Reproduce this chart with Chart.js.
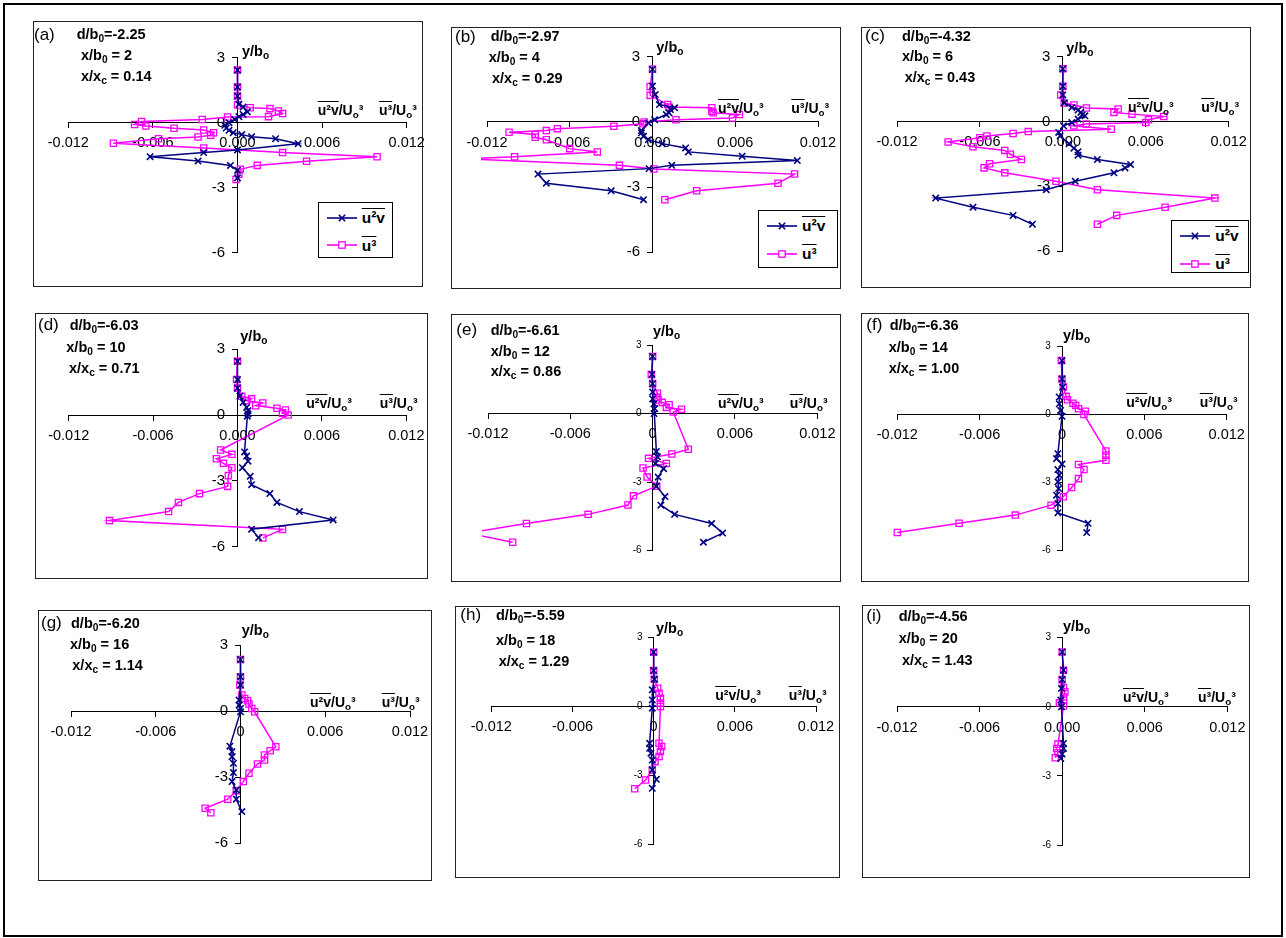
<!DOCTYPE html>
<html><head><meta charset="utf-8">
<script src="https://cdn.jsdelivr.net/npm/chart.js@4.4.1/dist/chart.umd.min.js"></script>
<style>
html,body{margin:0;padding:0;background:#fff}
body{width:1286px;height:938px;position:relative;overflow:hidden;font-family:Arial,"Liberation Sans",Helvetica,sans-serif;color:#000}
#frame{position:absolute;left:3px;top:3px;width:1280px;height:934px;border:2px solid #000;box-sizing:border-box}
.panel{position:absolute;border:1px solid #222;box-sizing:border-box;background:#fff}
canvas{position:absolute}
.t{position:absolute;white-space:nowrap;line-height:1}
.t sub{font-size:70%;vertical-align:baseline;position:relative;top:0.28em;line-height:0}
.ov{text-decoration:overline;text-decoration-thickness:1px}
.legend{position:absolute;border:1px solid #000;background:#fff;box-sizing:border-box}
.legend svg{position:absolute}
</style>
</head><body>
<div id="frame"></div>
<script>
// ---------------- data (x = normalised moment, y = y/b0) ----------------
const X_TICKS = [-0.012, -0.006, 0, 0.006, 0.012];
const X_TICK_LABELS = ['-0.012', '-0.006', '0.000', '0.006', '0.012'];
const X_TICK_LABELS_INT = ['-0.012', '-0.006', '0', '0.006', '0.012'];
const Y_TICKS = [-6, -3, 0, 3];
const Y_TICK_LABELS = ['-6', '-3', '0', '3'];

const PANEL_TAGS = ['(a)', '(b)', '(c)', '(d)', '(e)', '(f)', '(g)', '(h)', '(i)'];
const D_B0 = ['-2.25', '-2.97', '-4.32', '-6.03', '-6.61', '-6.36', '-6.20', '-5.59', '-4.56'];
const X_B0 = ['2', '4', '6', '10', '12', '14', '16', '18', '20'];
const X_XC = ['0.14', '0.29', '0.43', '0.71', '0.86', '1.00', '1.14', '1.29', '1.43'];

const A_U2V = [[0,2.43],[0,1.65],[0,1.23],[0.0001,0.85],[0.0004,0.72],[0.0007,0.5],[0.0004,0.38],[0.0001,0.28],[-0.0002,0.15],[-0.0006,0.0],[-0.0009,-0.12],[-0.0008,-0.25],[-0.0006,-0.35],[-0.0003,-0.46],[0.0003,-0.55],[0.001,-0.65],[0.0027,-0.74],[0.0043,-0.97],[0,-1.26],[-0.0024,-1.38],[-0.0062,-1.57],[-0.0028,-1.77],[-0.0005,-1.97],[0,-2.2],[0,-2.55]];
const A_U3 = [[0,2.43],[0,1.65],[0,1.23],[0,0.82],[0.0009,0.69],[0.0023,0.65],[0.0029,0.54],[0.0032,0.42],[0.0022,0.28],[-0.0007,0.26],[-0.0025,0.15],[-0.0068,0.06],[-0.0073,-0.08],[-0.0065,-0.15],[-0.0045,-0.26],[-0.0024,-0.34],[-0.0017,-0.46],[-0.0019,-0.58],[-0.0028,-0.66],[-0.0056,-0.74],[-0.0088,-0.95],[-0.0024,-1.17],[0.0032,-1.38],[0.0099,-1.57],[0.0049,-1.78],[0.0014,-1.97],[0.0002,-2.15],[0.0001,-2.38],[-0.0001,-2.62]];

const B_U2V = [[0,2.42],[0,1.65],[0.0002,1.26],[0.0005,0.8],[0.0016,0.65],[0.0013,0.57],[0.0012,0.42],[0.001,0.34],[0.00015,0.1],[-0.0003,-0.05],[-0.0008,-0.4],[-0.0008,-0.5],[-0.00065,-0.66],[-0.0003,-0.82],[0.0007,-1.0],[0.0024,-1.2],[0.0026,-1.38],[0.0065,-1.58],[0.0105,-1.78],[0.0014,-2.0],[-0.00025,-2.15],[-0.0083,-2.4],[-0.0077,-2.82],[-0.003,-3.17],[-0.00065,-3.58]];
const B_U3 = [[0,2.42],[-0.00017,1.63],[-0.00017,1.22],[0.0011,0.8],[0.0012,0.68],[0.0043,0.65],[0.0043,0.49],[0.0044,0.42],[0.0063,0.34],[0.0058,0.18],[0.0017,0.1],[-0.0006,0],[-0.0007,-0.09],[-0.0028,-0.2],[-0.0069,-0.31],[-0.0077,-0.4],[-0.0104,-0.48],[-0.0085,-0.58],[-0.0085,-0.71],[-0.0077,-0.82],[-0.006,-1.23],[-0.004,-1.38],[-0.01,-1.6],[-0.0135,-1.7],[-0.0024,-2.0],[0.0001,-2.17],[0.0103,-2.4],[0.0091,-2.82],[0.0032,-3.17],[0.0009,-3.58]];

const C_U2V = [[0,2.44],[0,1.63],[0,1.23],[0.0001,0.86],[0.00065,0.65],[0.0011,0.53],[0.0013,0.42],[0.0014,0.31],[0.0016,0.26],[0.0011,0.11],[0.00065,-0.05],[0.00005,-0.2],[-0.0003,-0.51],[-0.0002,-0.67],[0.00045,-1.03],[0.0008,-1.24],[0.0011,-1.4],[0.0011,-1.56],[0.0025,-1.76],[0.0049,-1.99],[0.0045,-2.15],[0.0037,-2.38],[0.0009,-2.77],[-0.0012,-3.16],[-0.0092,-3.55],[-0.0065,-3.97],[-0.0036,-4.35],[-0.0022,-4.76]];
const C_U3 = [[0,2.44],[0,1.63],[-0.00015,1.23],[0.0001,0.86],[0.0008,0.76],[0.0017,0.62],[0.004,0.58],[0.0037,0.42],[0.005,0.34],[0.0073,0.23],[0.0062,0.08],[0.006,-0.05],[0.0017,-0.12],[0.0008,-0.2],[0.0035,-0.36],[-0.0025,-0.47],[-0.0036,-0.56],[-0.0055,-0.67],[-0.006,-0.75],[-0.0083,-0.95],[-0.0065,-1.17],[-0.0042,-1.34],[-0.0038,-1.52],[-0.003,-1.76],[-0.0053,-1.96],[-0.0057,-2.15],[-0.0042,-2.38],[-0.0005,-2.77],[0.0025,-3.16],[0.011,-3.55],[0.0074,-3.97],[0.0039,-4.35],[0.0025,-4.76]];

const D_U2V = [[0,2.45],[0,1.62],[0,1.23],[0.00017,0.86],[0.0004,0.58],[0.00065,0.35],[0.00075,0.2],[0.00075,0.05],[0.0007,-0.05],[0.0005,-1.68],[0.00065,-1.87],[0.00075,-2.1],[0.00035,-2.4],[0.0009,-2.79],[0.001,-3.17],[0.0023,-3.58],[0.0028,-3.98],[0.0044,-4.4],[0.0068,-4.78],[0.001,-5.2],[0.0015,-5.59]];
const D_U3 = [[0,2.45],[-0.00007,1.62],[0,1.23],[0.0003,0.86],[0.001,0.74],[0.00065,0.66],[0.0018,0.55],[0.0013,0.43],[0.0028,0.31],[0.0034,0.23],[0.0032,0.09],[0.0036,0],[-0.0012,-1.59],[-0.0004,-1.79],[-0.0015,-1.99],[-0.001,-2.2],[-0.0004,-2.4],[-0.00065,-2.76],[-0.0007,-3.25],[-0.0027,-3.58],[-0.0042,-3.98],[-0.0049,-4.4],[-0.0091,-4.81],[0.0032,-5.21],[0.0018,-5.6]];

const E_U2V = [[0,2.5],[-0.00005,1.71],[0,1.31],[0,0.94],[0,0.64],[0.0001,0.42],[0.00015,0.22],[0.0001,0],[0.00027,-1.66],[0.00035,-1.89],[0.0002,-2.18],[0.0008,-2.41],[0.0004,-2.78],[0.00027,-3.18],[0.0009,-3.63],[0.0006,-4.01],[0.0016,-4.41],[0.0043,-4.81],[0.0051,-5.23],[0.0037,-5.63]];
const E_U3 = [[0,2.5],[-0.0001,1.71],[0,1.31],[0.00035,0.89],[0.00027,0.71],[0.0004,0.59],[0.0007,0.49],[0.0012,0.39],[0.001,0.27],[0.0021,0.19],[0.0015,0.07],[0.0026,-1.56],[0.0014,-1.77],[-0.0003,-1.96],[0.001,-2.18],[-0.0007,-2.38],[-0.0004,-2.78],[0.0003,-3.18],[-0.0014,-3.6],[-0.0018,-4.0],[-0.0047,-4.41],[-0.0092,-4.81],[-0.0135,-5.23],[-0.0102,-5.63]];

const F_U2V = [[0,2.39],[0,1.58],[0.00005,1.22],[-0.0002,0.78],[-0.0002,0.48],[-0.0001,0.19],[0,-0.07],[-0.0003,-1.72],[-0.0004,-1.94],[0,-2.18],[-0.0003,-2.42],[-0.0002,-2.67],[-0.0003,-2.96],[-0.00025,-3.26],[-0.0004,-3.55],[-0.0003,-3.92],[-0.0003,-4.33],[0.0019,-4.79],[0.0018,-5.2]];
const F_U3 = [[-0.00005,2.39],[0,1.58],[0.0001,1.22],[0.0003,0.81],[0.0004,0.66],[0.0008,0.51],[0.001,0.41],[0.0012,0.26],[0.0017,0.15],[0.0016,0.01],[0.0032,-1.6],[0.0032,-1.79],[0.0032,-2.01],[0.0012,-2.2],[0.0016,-2.42],[0.0012,-2.82],[0.0007,-3.21],[0.0001,-3.62],[-0.0008,-3.99],[-0.0034,-4.43],[-0.0075,-4.79],[-0.012,-5.2]];

const G_U2V = [[0,2.34],[0,1.56],[0,1.18],[-0.0001,0.5],[-0.0001,0.27],[0,0.12],[0,-0.03],[-0.00075,-1.59],[-0.0006,-1.84],[-0.0006,-2.07],[-0.0005,-2.37],[-0.0005,-2.79],[-0.0006,-3.2],[-0.0003,-3.58],[-0.0003,-4.0],[0.0001,-4.56]];
const G_U3 = [[0,2.34],[0,1.56],[-0.00005,1.18],[0.0001,0.73],[0.0003,0.57],[0.0005,0.47],[0.0006,0.32],[0.0008,0.12],[0.001,-0.03],[0.0025,-1.62],[0.0021,-1.8],[0.0017,-1.99],[0.0017,-2.22],[0.0012,-2.4],[0.0006,-2.82],[0.0002,-3.2],[-0.0003,-3.61],[-0.0009,-4.0],[-0.0025,-4.41],[-0.0021,-4.61]];

const H_U2V = [[0,2.37],[0,1.57],[0.00005,1.19],[-0.0001,0.73],[-0.0001,0.29],[-0.0001,-0.07],[-0.0003,-1.6],[-0.0003,-1.82],[-0.0002,-2.03],[-0.0001,-2.33],[-0.0001,-2.76],[0.0002,-3.17],[-0.0001,-3.56]];
const H_U3 = [[0,2.37],[0,1.57],[0.00005,1.19],[0.0003,0.8],[0.0004,0.58],[0.0005,0.36],[0.0005,0.15],[0.0005,0],[0.0004,-1.6],[0.0006,-1.74],[0.0005,-1.96],[0.0004,-2.18],[0.0001,-2.4],[-0.0001,-2.76],[-0.0006,-3.2],[-0.0014,-3.58]];

const I_U2V = [[0,2.38],[0.0001,1.59],[0,1.18],[-0.00005,0.8],[-0.0001,0.29],[-0.00005,0],[0.0001,-1.59],[0.0001,-1.81],[0,-2.05],[-0.0001,-2.24]];
const I_U3 = [[0,2.38],[0.0001,1.59],[0,1.18],[0.0001,0.84],[0.0002,0.65],[0.0001,0.43],[0.0001,0.29],[-0.0002,0.17],[0.0001,0.03],[-0.0003,-1.62],[-0.0004,-1.81],[-0.0003,-1.99],[-0.0005,-2.21]];

// ---------------- layout (page pixels) ----------------
const PANELS = [
 {u2v:A_U2V,u3:A_U3,box:[32.7,20.7,423,286.7],ax:[68.3,406.7,57.7,252.7],xl:X_TICK_LABELS,yfs:15,legend:[317.7,201.7,393.3,258.3],tag:[34,40],d:[76.7,39.5],xb:[81,60.5],xc:[81,81.5],t1:[317.7,115],t2:379,yb:[242,56.7]},
 {u2v:B_U2V,u3:B_U3,box:[451,26.5,841,289],ax:[487,818,56.7,252.3],xl:X_TICK_LABELS,yfs:15,legend:[758,210,838,268.3],tag:[455,42],d:[490.7,41.5],xb:[488.7,62.5],xc:[492,83.5],t1:[718,113.3],t2:791.3,yb:[656.3,52.3]},
 {u2v:C_U2V,u3:C_U3,box:[861,26.5,1251,288.3],ax:[897,1228.7,56.7,251],xl:X_TICK_LABELS,yfs:15,legend:[1171.3,220,1249,273],tag:[865,41.5],d:[902,41],xb:[902,61.5],xc:[904.7,82.5],t1:[1128,111.7],t2:1201.3,yb:[1066.3,53.3]},
 {u2v:D_U2V,u3:D_U3,box:[34.7,313.3,428,579.3],ax:[68.7,406.3,349.3,546.7],xl:X_TICK_LABELS,yfs:15,tag:[38,330],d:[69.7,330],xb:[66.3,352.7],xc:[69,373.3],t1:[306.3,408.3],t2:379.7,yb:[240.3,341.7]},
 {u2v:E_U2V,u3:E_U3,box:[451.3,314,841.3,581.7],ax:[488,817.3,345,550.7],xl:X_TICK_LABELS_INT,yfs:10,tag:[456.3,335],d:[490.7,335],xb:[490.7,356],xc:[490.7,376],t1:[718,408.3],t2:789.7,yb:[653,336.7]},
 {u2v:F_U2V,u3:F_U3,box:[861.3,313.3,1249.3,581.7],ax:[897.3,1226.7,346.7,550.7],xl:X_TICK_LABELS_INT,yfs:10,tag:[866.3,330],d:[889.7,330],xb:[888.7,352.7],xc:[888.7,373.3],t1:[1126.3,406.7],t2:1199.7,yb:[1063,340]},
 {u2v:G_U2V,u3:G_U3,box:[37.7,610,432.3,881],ax:[71,410,645,843.3],xl:X_TICK_LABELS_INT,yfs:15,tag:[41,628.3],d:[71,628.3],xb:[70,649.3],xc:[72.3,670],t1:[310,706.7],t2:381.7,yb:[241.7,635]},
 {u2v:H_U2V,u3:H_U3,box:[455.3,606,840.3,877.7],ax:[491.3,816,637.7,844.3],xl:X_TICK_LABELS_INT,yfs:10,tag:[460.3,620],d:[496,620.7],xb:[496,645],xc:[498.7,666],t1:[715.3,700],t2:788.7,yb:[656,633.3]},
 {u2v:I_U2V,u3:I_U3,box:[862,605,1249.7,877.7],ax:[897,1227.3,637.7,845],xl:X_TICK_LABELS,yfs:10,tag:[866.3,621.7],d:[898.7,621.7],xb:[898.7,643.3],xc:[902,665],t1:[1123,701.7],t2:1198,yb:[1063,631.7]}
];

const FONT = 'Arial, "Liberation Sans", Helvetica, sans-serif';
const NAVY = '#000080', MAGENTA = '#FF00FF';
const M = 14;

function addText(html, x, baseline, fs, weight) {
  const el = document.createElement('div');
  el.className = 't';
  el.style.left = x + 'px';
  el.style.top = (baseline - 0.8465 * fs) + 'px';
  el.style.fontSize = fs + 'px';
  el.style.fontWeight = weight || 'normal';
  el.innerHTML = html;
  document.body.appendChild(el);
}

function legendBox(rect) {
  const [l, t, r, b] = rect;
  const box = document.createElement('div');
  box.className = 'legend';
  box.style.left = l + 'px'; box.style.top = t + 'px';
  box.style.width = (r - l) + 'px'; box.style.height = (b - t) + 'px';
  const rows = [
    {y: 15, color: NAVY, mark: 'x', html: '<span class="ov">u\u00b2v</span>'},
    {y: 42.5, color: MAGENTA, mark: 's', html: '<span class="ov">u\u00b3</span>'}
  ];
  rows.forEach(rw => {
    const s = document.createElementNS('http://www.w3.org/2000/svg', 'svg');
    s.setAttribute('width', 30); s.setAttribute('height', 14);
    s.style.left = '8px'; s.style.top = (rw.y - 7) + 'px';
    let inner = `<line x1="0" y1="7" x2="30" y2="7" stroke="${rw.color}" stroke-width="1.6"/>`;
    if (rw.mark === 'x') {
      inner += `<line x1="11.8" y1="3.8" x2="18.2" y2="10.2" stroke="${rw.color}" stroke-width="1.6"/><line x1="11.8" y1="10.2" x2="18.2" y2="3.8" stroke="${rw.color}" stroke-width="1.6"/>`;
    } else {
      inner += `<rect x="11.8" y="3.8" width="6.4" height="6.4" fill="#fff" stroke="${rw.color}" stroke-width="1.3"/>`;
    }
    s.innerHTML = inner;
    box.appendChild(s);
    const tx = document.createElement('div');
    tx.className = 't';
    tx.style.left = '43px';
    tx.style.top = (rw.y + 5.5 - 0.8465 * 15.5) + 'px';
    tx.style.fontSize = '15.5px';
    tx.style.fontWeight = 'bold';
    tx.innerHTML = rw.html;
    box.appendChild(tx);
  });
  document.body.appendChild(box);
}

function toPts(arr) { return arr.map(([x, y]) => ({x, y})); }

function zeroPad(s) { s.paddingLeft = 0; s.paddingRight = 0; s.paddingTop = 0; s.paddingBottom = 0; }

PANELS.forEach((p, i) => {
  const [bl, bt, br, bb] = p.box;
  const pd = document.createElement('div');
  pd.className = 'panel';
  pd.style.left = bl + 'px'; pd.style.top = bt + 'px';
  pd.style.width = (br - bl) + 'px'; pd.style.height = (bb - bt) + 'px';
  document.body.appendChild(pd);

  const cl = Math.round(bl - M), ct = Math.round(bt - M);
  const cr = Math.round(br + M), cb = Math.round(bb + M);
  const cv = document.createElement('canvas');
  cv.width = cr - cl; cv.height = cb - ct;
  cv.style.left = cl + 'px'; cv.style.top = ct + 'px';
  cv.style.width = (cr - cl) + 'px'; cv.style.height = (cb - ct) + 'px';
  document.body.appendChild(cv);

  const [x0, x1, y3, y6] = p.ax;
  const xLabels = p.xl;
  // y labels are right-aligned on the crossing axis; trailing spaces leave the tick-mark gap
  const yGap = p.yfs >= 15 ? '   ' : '    ';
  new Chart(cv.getContext('2d'), {
    type: 'scatter',
    data: {
      datasets: [
        {label: 'u2v', data: toPts(p.u2v), showLine: true, borderColor: NAVY, borderWidth: 1.5,
         pointStyle: 'crossRot', pointRadius: 4.5, pointBorderColor: NAVY, pointBackgroundColor: NAVY,
         pointBorderWidth: 1.6, clip: {left: 6, right: 6, top: 10, bottom: 10}, order: 0},
        {label: 'u3', data: toPts(p.u3), showLine: true, borderColor: MAGENTA, borderWidth: 1.5,
         pointStyle: 'rect', pointRadius: 4.4, pointBorderColor: MAGENTA, pointBackgroundColor: 'rgba(255,255,255,0)',
         pointBorderWidth: 1.3, clip: {left: 6, right: 6, top: 10, bottom: 10}, order: 1}
      ]
    },
    options: {
      responsive: false, animation: false, devicePixelRatio: 1,
      layout: {padding: {left: x0 - cl, right: cr - x1, top: y3 - ct, bottom: cb - y6}},
      plugins: {legend: {display: false}, tooltip: {enabled: false}},
      events: [],
      scales: {
        x: {
          type: 'linear', min: -0.012, max: 0.012, position: {y: 0},
          afterBuildTicks: s => { s.ticks = X_TICKS.map(v => ({value: v})); },
          afterFit: zeroPad,
          grid: {display: true, drawOnChartArea: false, drawTicks: true, tickLength: 5, tickColor: '#000', tickWidth: 1},
          border: {display: true, color: '#000', width: 1},
          ticks: {callback: (v, idx) => xLabels[idx], color: '#000', font: {family: FONT, size: 14.5}, padding: 7, maxRotation: 0, minRotation: 0, autoSkip: false}
        },
        y: {
          type: 'linear', min: -6, max: 3, position: {x: 0},
          afterBuildTicks: s => { s.ticks = Y_TICKS.map(v => ({value: v})); },
          afterFit: zeroPad,
          grid: {display: true, drawOnChartArea: false, drawTicks: true, tickLength: 5, tickColor: '#000', tickWidth: 1},
          border: {display: true, color: '#000', width: 1},
          ticks: {callback: (v, idx) => Y_TICK_LABELS[idx] + yGap, color: '#000', font: {family: FONT, size: p.yfs}, padding: 4, autoSkip: false}
        }
      }
    }
  });

  addText(PANEL_TAGS[i], p.tag[0], p.tag[1], 17, 'normal');
  addText('d/b<sub>0</sub>=' + D_B0[i], p.d[0], p.d[1], 14.5, 'bold');
  addText('x/b<sub>0</sub> = ' + X_B0[i], p.xb[0], p.xb[1], 14.5, 'bold');
  addText('x/x<sub>c</sub> = ' + X_XC[i], p.xc[0], p.xc[1], 14.5, 'bold');
  addText('<span class="ov">u\u00b2v</span>/U<sub>o</sub>\u00b3', p.t1[0], p.t1[1], 14, 'bold');
  addText('<span class="ov">u\u00b3</span>/U<sub>o</sub>\u00b3', p.t2, p.t1[1], 14, 'bold');
  addText('y/b<sub>o</sub>', p.yb[0], p.yb[1], 14.5, 'bold');
  if (p.legend) legendBox(p.legend);
});
</script>
</body></html>
